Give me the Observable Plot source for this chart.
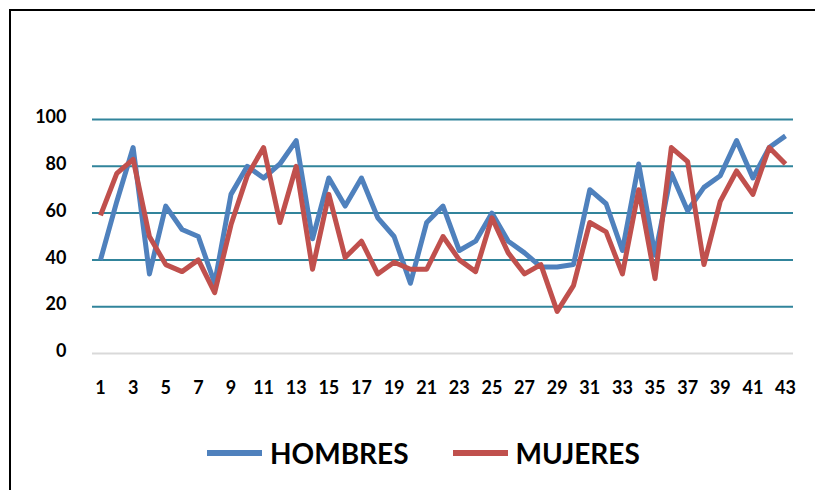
<!DOCTYPE html>
<html>
<head>
<meta charset="utf-8">
<script src="https://cdn.jsdelivr.net/npm/d3@7"></script>
<script src="https://cdn.jsdelivr.net/npm/@observablehq/plot@0.6"></script>
<style>
  html, body { margin: 0; background: #fff; overflow: hidden; }
  #wrap { position: relative; width: 817px; height: 490px; overflow: hidden; font-family: Lato, "Open Sans", sans-serif; }
  #frame { position: absolute; left: 9px; top: 9px; width: 806px; height: 481px; border-left: 2px solid #000; border-top: 2px solid #000; box-sizing: border-box; }
  #chart { position: absolute; left: 0; top: 0; }
  #legend { position: absolute; left: 207px; top: 436px; display: flex; align-items: center; font-weight: 700; font-size: 28px; color: #000; }
  .item { display: flex; align-items: center; margin-right: 44px; }
  .sw { width: 55px; height: 6px; margin-right: 8px; }
</style>
</head>
<body>
<div id="wrap">
  <div id="frame"></div>
  <div id="chart"></div>
  <div id="legend"></div>
</div>
<script>
const series = ["HOMBRES", "MUJERES"];
const colors = ["#4F81BD", "#C0504D"];
const hombres = [40, 65, 88, 34, 63, 53, 50, 30, 68, 80, 75, 81, 91, 49, 75, 63, 75, 58, 50, 30, 56, 63, 44, 48, 60, 48, 43, 37, 37, 38, 70, 64, 44, 81, 42, 77, 61, 71, 76, 91, 75, 88, 93];
const mujeres = [59, 77, 83, 50, 38, 35, 40, 26, 55, 76, 88, 56, 80, 36, 68, 41, 48, 34, 39, 36, 36, 50, 40, 35, 58, 43, 34, 38, 18, 29, 56, 52, 34, 70, 32, 88, 82, 38, 65, 78, 68, 88, 81];
const yTicks = [0, 20, 40, 60, 80, 100];
const xTicks = d3.range(1, 44, 2);

const data = [];
hombres.forEach((v, i) => data.push({serie: series[0], x: i + 1, y: v}));
mujeres.forEach((v, i) => data.push({serie: series[1], x: i + 1, y: v}));

const chart = Plot.plot({
  width: 817,
  height: 420,
  marginLeft: 92,
  marginRight: 24,
  marginTop: 119,
  marginBottom: 67,
  style: {fontFamily: "Lato, 'Open Sans', sans-serif", fontWeight: 700, fontSize: "18px", color: "#000", background: "transparent"},
  x: {domain: [1, 43], insetLeft: 8, insetRight: 8, ticks: xTicks, tickFormat: d => String(d), label: null},
  y: {domain: [0, 100], ticks: yTicks, label: null},
  color: {domain: series, range: colors},
  marks: [
    Plot.ruleY(yTicks.filter(d => d > 0), {stroke: "#31849B", strokeWidth: 2}),
    Plot.ruleY([0], {stroke: "#D9D9D9", strokeWidth: 2}),
    Plot.axisY({ticks: yTicks, tickSize: 0, tickPadding: 26, dy: -2, fontSize: 18, fontWeight: 700}),
    Plot.axisX({ticks: xTicks, tickSize: 0, tickPadding: 28, fontSize: 18, fontWeight: 700}),
    Plot.line(data, {x: "x", y: "y", z: "serie", stroke: "serie", strokeWidth: 5, strokeLinejoin: "round", strokeLinecap: "butt"})
  ]
});
document.getElementById("chart").appendChild(chart);

const legend = document.getElementById("legend");
series.forEach((s, i) => {
  const it = document.createElement("div");
  it.className = "item";
  const sw = document.createElement("div");
  sw.className = "sw";
  sw.style.background = colors[i];
  const t = document.createElement("span");
  t.textContent = s;
  it.appendChild(sw);
  it.appendChild(t);
  legend.appendChild(it);
});
</script>
</body>
</html>
